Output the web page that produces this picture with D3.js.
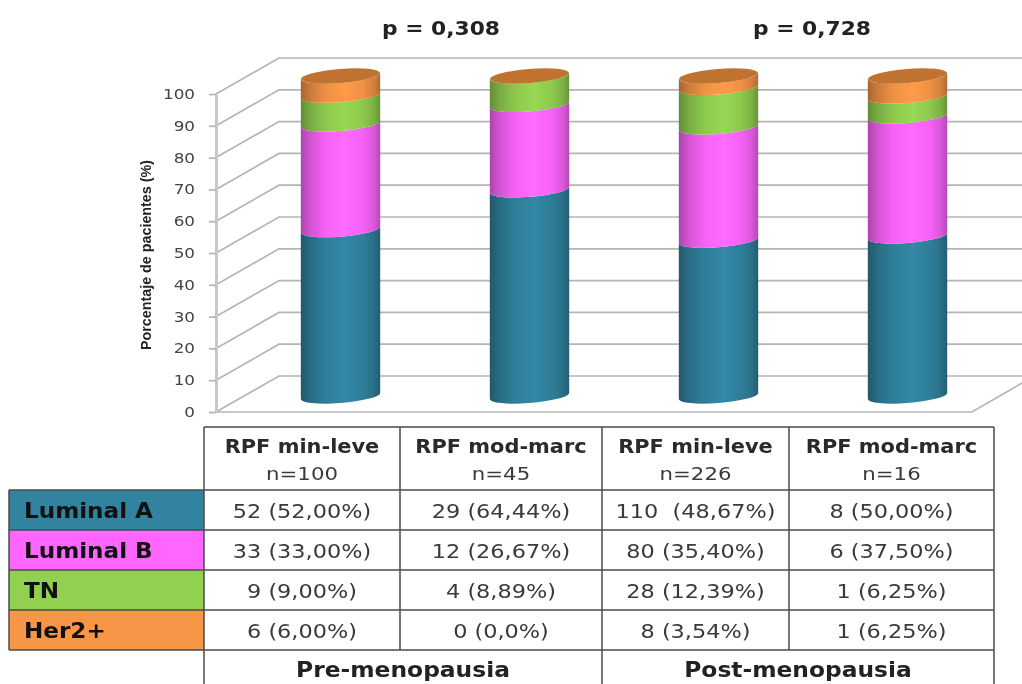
<!DOCTYPE html>
<html>
<head>
<meta charset="utf-8">
<style>
  html, body { margin: 0; padding: 0; background: #fff; }
  svg { display: block; font-family: "DejaVu Sans", sans-serif; filter: blur(0.55px); }
</style>
<script src="https://cdn.jsdelivr.net/npm/d3@7"></script>
</head>
<body>
<div id="chart"></div>
<script>
"use strict";

const width = 1022,
  height = 684;

// Chart values (percent of patients)
const columns = ["RPF min-leve", "RPF mod-marc", "RPF min-leve ", "RPF mod-marc "];
const sampleSizes = ["n=100", "n=45", "n=226", "n=16"];
const seriesNames = ["Luminal A", "Luminal B", "TN", "Her2+"];
const luminalA = [52, 64.44, 48.67, 50];
const luminalB = [33, 26.67, 35.4, 37.5];
const tripleNeg = [9, 8.89, 12.39, 6.25];
const her2 = [6, 0, 3.54, 6.25];
const seriesColors = ["#31839f", "#ff66ff", "#92d050", "#f79646"];
const yTicks = [0, 10, 20, 30, 40, 50, 60, 70, 80, 90, 100];

// Table cell text
const rowLuminalA = ["52 (52,00%)", "29 (64,44%)", "110  (48,67%)", "8 (50,00%)"];
const rowLuminalB = ["33 (33,00%)", "12 (26,67%)", "80 (35,40%)", "6 (37,50%)"];
const rowTN = ["9 (9,00%)", "4 (8,89%)", "28 (12,39%)", "1 (6,25%)"];
const rowHer2 = ["6 (6,00%)", "0 (0,0%)", "8 (3,54%)", "1 (6,25%)"];
const groupNames = ["Pre-menopausia", "Post-menopausia"];
const pValues = ["p = 0,308", "p = 0,728"];

const allSeries = [luminalA, luminalB, tripleNeg, her2];
const allRows = [rowLuminalA, rowLuminalB, rowTN, rowHer2];

// Plot box, the 3D look is just the back wall shifted by depth
const plot = { left: 216, right: 972, front0: 412, front100: 94 };
const depth = { x: 63, y: -36 };

const svg = d3
  .select("#chart")
  .append("svg")
  .attr("width", width)
  .attr("height", height)
  .attr("viewBox", [0, 0, width, height]);

const defs = svg.append("defs");

const yFront = d3.scaleLinear().domain([0, 100]).range([plot.front0, plot.front100]);
const yBack = d3
  .scaleLinear()
  .domain([0, 100])
  .range([plot.front0 + depth.y, plot.front100 + depth.y]);
const yBar = d3.scaleLinear().domain([0, 100]).range([396, 76]);
const xBar = d3
  .scaleBand()
  .domain(columns)
  .range([plot.left + 30, plot.right + 30])
  .paddingInner(0.58)
  .paddingOuter(0.29);

// Text in the original is stretched sideways, so scale x rather than the font size
function wideText(parent, x, y, str, stretch) {
  return parent
    .append("text")
    .attr("transform", `translate(${x},${y}) scale(${stretch},1)`)
    .style("white-space", "pre")
    .text(str);
}

// Gridlines -------------------------------------------------------------------
const grid = svg.append("g").attr("fill", "none").attr("stroke", "#b5b5b5").attr("stroke-width", 1.7);

grid
  .selectAll("polyline")
  .data(yTicks)
  .join("polyline")
  .attr("points", (d) =>
    [
      [plot.left, yFront(d)],
      [plot.left + depth.x, yBack(d)],
      [width, yBack(d)],
    ].join(" ")
  );

// floor
grid
  .append("polyline")
  .attr("points", [
    [plot.left, plot.front0],
    [plot.right, plot.front0],
    [plot.right + 50, plot.front0 - 29],
  ].join(" "));

// Y axis ----------------------------------------------------------------------
const yAxis = svg
  .append("g")
  .attr("transform", `translate(${plot.left},0)`)
  .call(d3.axisLeft(yFront).tickValues(yTicks).tickSize(7).tickPadding(14).tickSizeOuter(0));

yAxis.select(".domain").attr("stroke", "#c8c8c8").attr("stroke-width", 3);
yAxis.selectAll(".tick line").attr("stroke", "#b5b5b5").attr("stroke-width", 1.7);
yAxis
  .selectAll(".tick text")
  .attr("fill", "#444")
  .attr("font-family", '"DejaVu Sans", sans-serif')
  .attr("font-size", 14)
  .attr("transform", "translate(4.2,0) scale(1.2,1)");

svg
  .append("text")
  .attr("transform", "translate(151,255) rotate(-90)")
  .attr("text-anchor", "middle")
  .attr("font-family", '"Liberation Sans Narrow", "Liberation Sans", sans-serif')
  .attr("font-weight", "bold")
  .attr("font-size", 15)
  .attr("textLength", 190)
  .attr("lengthAdjust", "spacingAndGlyphs")
  .attr("fill", "#222")
  .text("Porcentaje de pacientes (%)");

// Cylinders -------------------------------------------------------------------
seriesColors.forEach((c, i) => {
  const base = d3.color(c);
  const grad = defs.append("linearGradient").attr("id", `cyl-${i}`);
  [
    [0, base.darker(1.1)],
    [0.12, base.darker(0.55)],
    [0.32, base.darker(0.1)],
    [0.56, base.brighter(0.1)],
    [0.78, base.darker(0.1)],
    [0.92, base.darker(0.45)],
    [1, base.darker(0.95)],
  ].forEach(([o, col]) => {
    grad.append("stop").attr("offset", o).attr("stop-color", col);
  });
});

const rx = xBar.bandwidth() / 2,
  ry = 7,
  tilt = 3,
  rotation = -4.5;

function segmentPath(cx, yLow, yHigh) {
  return (
    `M${cx - rx},${yLow + tilt}` +
    `A${rx},${ry} ${rotation} 0 0 ${cx + rx},${yLow - tilt}` +
    `L${cx + rx},${yHigh - tilt}` +
    `A${rx},${ry} ${rotation} 0 1 ${cx - rx},${yHigh + tilt}Z`
  );
}

columns.forEach((col, c) => {
  const cx = xBar(col) + rx;
  const g = svg.append("g");
  let running = 0;
  allSeries.forEach((values, s) => {
    const start = running;
    running += values[c];
    if (values[c] === 0) return;
    g.append("path")
      .attr("d", segmentPath(cx, yBar(start), yBar(running)))
      .attr("fill", `url(#cyl-${s})`);
  });
  // lid
  g.append("ellipse")
    .attr("rx", rx)
    .attr("ry", ry)
    .attr("transform", `translate(${cx},${yBar(running)}) rotate(${rotation})`)
    .attr("fill", "#c07331");
});

// Table -----------------------------------------------------------------------
const colEdges = [204, 400, 602, 789, 994],
  rowEdges = [490, 530, 570, 610, 650],
  tableTop = 427,
  labelLeft = 9;

const table = svg.append("g");

table
  .selectAll("rect.label")
  .data(seriesNames)
  .join("rect")
  .attr("class", "label")
  .attr("x", labelLeft)
  .attr("y", (d, i) => rowEdges[i])
  .attr("width", colEdges[0] - labelLeft)
  .attr("height", (d, i) => rowEdges[i + 1] - rowEdges[i])
  .attr("fill", (d, i) => seriesColors[i]);

const tableLines = table.append("g").attr("stroke", "#4a4a4a").attr("stroke-width", 1.5);

function hLine(x1, x2, y) {
  tableLines.append("line").attr("x1", x1).attr("x2", x2).attr("y1", y).attr("y2", y);
}
function vLine(x, y1, y2) {
  tableLines.append("line").attr("x1", x).attr("x2", x).attr("y1", y1).attr("y2", y2);
}

hLine(colEdges[0], colEdges[4], tableTop);
rowEdges.forEach((y) => hLine(labelLeft, colEdges[4], y));
colEdges.forEach((x) => vLine(x, tableTop, rowEdges[4]));
vLine(labelLeft, rowEdges[0], rowEdges[4]);
[colEdges[0], colEdges[2], colEdges[4]].forEach((x) => vLine(x, rowEdges[4], height));

const colCenter = (i) => (colEdges[i] + colEdges[i + 1]) / 2;

// column headers
columns.forEach((col, i) => {
  wideText(table, colCenter(i), 453, col.trim(), 1.1)
    .attr("text-anchor", "middle")
    .attr("font-weight", "bold")
    .attr("font-size", 19)
    .attr("fill", "#2a2a2a");
  wideText(table, colCenter(i), 480, sampleSizes[i], 1.15)
    .attr("text-anchor", "middle")
    .attr("font-size", 18.5)
    .attr("fill", "#3a3a3a");
});

// row labels and cells
seriesNames.forEach((name, r) => {
  const rowMid = (rowEdges[r] + rowEdges[r + 1]) / 2;
  wideText(table, 24, rowMid + 7.5, name, 1.1)
    .attr("font-weight", "bold")
    .attr("font-size", 21)
    .attr("fill", "#111");
  allRows[r].forEach((cell, c) => {
    wideText(table, colCenter(c), rowMid + 7.5, cell, 1.12)
      .attr("text-anchor", "middle")
      .attr("font-size", 20)
      .attr("fill", "#3a3a3a");
  });
});

// group labels and p values
const groupCenters = [(colEdges[0] + colEdges[2]) / 2, (colEdges[2] + colEdges[4]) / 2];

groupNames.forEach((name, i) => {
  wideText(table, groupCenters[i], 677, name, 1.14)
    .attr("text-anchor", "middle")
    .attr("font-weight", "bold")
    .attr("font-size", 20.5)
    .attr("fill", "#222");
});

pValues.forEach((p, i) => {
  wideText(svg, [441, 812][i], 35, p, 1.09)
    .attr("text-anchor", "middle")
    .attr("font-weight", "bold")
    .attr("font-size", 20)
    .attr("fill", "#222");
});
</script>
</body>
</html>
